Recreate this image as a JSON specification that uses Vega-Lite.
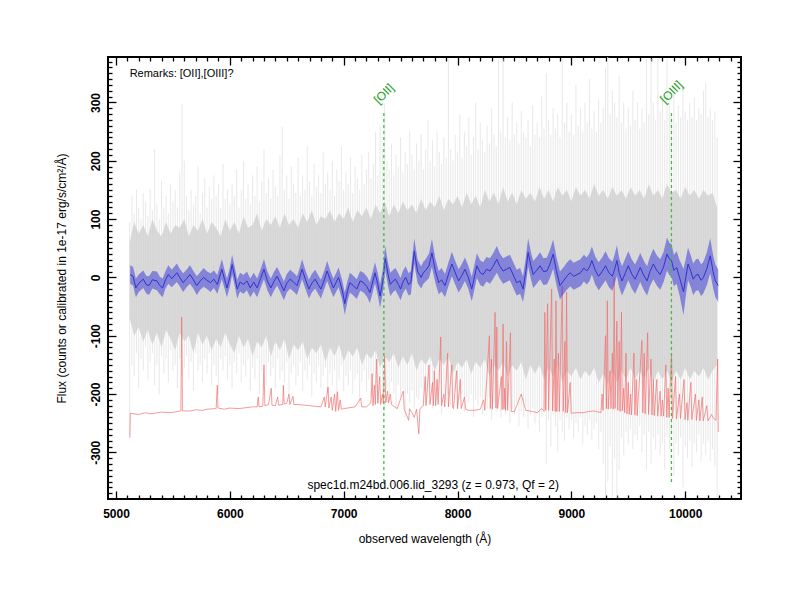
{
  "$schema": "https://vega.github.io/schema/vega-lite/v6.json",
  "width": 633,
  "height": 442,
  "autosize": "none",
  "padding": {"left": 108, "top": 57, "right": 59, "bottom": 101},
  "background": "white",
  "config": {
    "font": "Liberation Sans",
    "view": {"stroke": "black", "strokeWidth": 2}
  },
  "datasets": {
    "grey": [
      {"w":5120,"a":-270,"b":95},{"w":5140,"a":-150,"b":140},{"w":5160,"a":-170,"b":110},{"w":5180,"a":-130,"b":150},{"w":5200,"a":-190,"b":120},
      {"w":5220,"a":-140,"b":100},{"w":5240,"a":-160,"b":145},{"w":5260,"a":-120,"b":130},{"w":5280,"a":-175,"b":105},{"w":5300,"a":-145,"b":150},
      {"w":5320,"a":-130,"b":115},{"w":5340,"a":-185,"b":220},{"w":5360,"a":-150,"b":125},{"w":5380,"a":-200,"b":100},{"w":5400,"a":-135,"b":165},
      {"w":5420,"a":-165,"b":120},{"w":5440,"a":-140,"b":140},{"w":5460,"a":-180,"b":110},{"w":5480,"a":-125,"b":160},{"w":5500,"a":-160,"b":130},
      {"w":5520,"a":-150,"b":150},{"w":5540,"a":-190,"b":120},{"w":5560,"a":-140,"b":180},{"w":5580,"a":-170,"b":298},{"w":5600,"a":-155,"b":200},
      {"w":5620,"a":-135,"b":140},{"w":5640,"a":-175,"b":115},{"w":5660,"a":-145,"b":150},{"w":5680,"a":-195,"b":125},{"w":5700,"a":-130,"b":140},
      {"w":5720,"a":-160,"b":190},{"w":5740,"a":-150,"b":110},{"w":5760,"a":-180,"b":145},{"w":5780,"a":-140,"b":170},{"w":5800,"a":-165,"b":120},
      {"w":5820,"a":-130,"b":155},{"w":5840,"a":-185,"b":135},{"w":5860,"a":-150,"b":175},{"w":5880,"a":-170,"b":140},{"w":5900,"a":-200,"b":160},
      {"w":5920,"a":-140,"b":120},{"w":5940,"a":-160,"b":195},{"w":5960,"a":-135,"b":135},{"w":5980,"a":-175,"b":150},{"w":6000,"a":-150,"b":125},
      {"w":6020,"a":-190,"b":160},{"w":6040,"a":-145,"b":140},{"w":6060,"a":-165,"b":185},{"w":6080,"a":-130,"b":120},{"w":6100,"a":-180,"b":150},
      {"w":6120,"a":-150,"b":200},{"w":6140,"a":-170,"b":135},{"w":6160,"a":-140,"b":160},{"w":6180,"a":-195,"b":125},{"w":6200,"a":-155,"b":175},
      {"w":6220,"a":-175,"b":140},{"w":6240,"a":-140,"b":190},{"w":6260,"a":-200,"b":130},{"w":6280,"a":-160,"b":165},{"w":6300,"a":-150,"b":220},
      {"w":6320,"a":-185,"b":145},{"w":6340,"a":-145,"b":170},{"w":6360,"a":-170,"b":135},{"w":6380,"a":-155,"b":185},{"w":6400,"a":-190,"b":155},
      {"w":6420,"a":-140,"b":140},{"w":6440,"a":-175,"b":210},{"w":6460,"a":-160,"b":258},{"w":6480,"a":-180,"b":150},{"w":6500,"a":-145,"b":175},
      {"w":6520,"a":-200,"b":135},{"w":6540,"a":-165,"b":190},{"w":6560,"a":-150,"b":160},{"w":6580,"a":-185,"b":145},{"w":6600,"a":-170,"b":205},
      {"w":6620,"a":-145,"b":140},{"w":6640,"a":-195,"b":175},{"w":6660,"a":-160,"b":150},{"w":6680,"a":-175,"b":225},{"w":6700,"a":-150,"b":165},
      {"w":6720,"a":-205,"b":140},{"w":6740,"a":-165,"b":195},{"w":6760,"a":-180,"b":155},{"w":6780,"a":-150,"b":175},{"w":6800,"a":-190,"b":145},
      {"w":6820,"a":-170,"b":215},{"w":6840,"a":-155,"b":160},{"w":6860,"a":-200,"b":180},{"w":6880,"a":-165,"b":150},{"w":6900,"a":-185,"b":200},
      {"w":6920,"a":-160,"b":140},{"w":6940,"a":-210,"b":185},{"w":6960,"a":-175,"b":165},{"w":6980,"a":-150,"b":225},{"w":7000,"a":-195,"b":150},
      {"w":7020,"a":-170,"b":180},{"w":7040,"a":-185,"b":160},{"w":7060,"a":-160,"b":205},{"w":7080,"a":-200,"b":145},{"w":7100,"a":-175,"b":190},
      {"w":7120,"a":-165,"b":170},{"w":7140,"a":-215,"b":150},{"w":7160,"a":-180,"b":210},{"w":7180,"a":-160,"b":160},{"w":7200,"a":-195,"b":185},
      {"w":7220,"a":-175,"b":215},{"w":7240,"a":-205,"b":170},{"w":7260,"a":-170,"b":195},{"w":7280,"a":-190,"b":250},{"w":7300,"a":-210,"b":175},
      {"w":7320,"a":-180,"b":260},{"w":7340,"a":-200,"b":220},{"w":7360,"a":-230,"b":298},{"w":7380,"a":-190,"b":200},{"w":7400,"a":-215,"b":185},
      {"w":7420,"a":-180,"b":230},{"w":7440,"a":-200,"b":175},{"w":7460,"a":-225,"b":210},{"w":7480,"a":-185,"b":190},{"w":7500,"a":-205,"b":240},
      {"w":7520,"a":-190,"b":180},{"w":7540,"a":-240,"b":215},{"w":7560,"a":-200,"b":195},{"w":7580,"a":-215,"b":250},{"w":7600,"a":-195,"b":210},
      {"w":7620,"a":-225,"b":185},{"w":7640,"a":-205,"b":230},{"w":7660,"a":-210,"b":200},{"w":7680,"a":-190,"b":245},{"w":7700,"a":-215,"b":185},
      {"w":7720,"a":-195,"b":220},{"w":7740,"a":-205,"b":270},{"w":7760,"a":-190,"b":200},{"w":7780,"a":-225,"b":235},{"w":7800,"a":-200,"b":190},
      {"w":7820,"a":-210,"b":250},{"w":7840,"a":-195,"b":215},{"w":7860,"a":-235,"b":195},{"w":7880,"a":-200,"b":240},{"w":7900,"a":-215,"b":205},
      {"w":7920,"a":-200,"b":375},{"w":7940,"a":-220,"b":220},{"w":7960,"a":-205,"b":200},{"w":7980,"a":-195,"b":245},{"w":8000,"a":-225,"b":215},
      {"w":8020,"a":-210,"b":280},{"w":8040,"a":-200,"b":205},{"w":8060,"a":-230,"b":250},{"w":8080,"a":-205,"b":225},{"w":8100,"a":-215,"b":275},
      {"w":8120,"a":-200,"b":210},{"w":8140,"a":-240,"b":240},{"w":8160,"a":-210,"b":300},{"w":8180,"a":-220,"b":220},{"w":8200,"a":-205,"b":265},
      {"w":8220,"a":-235,"b":235},{"w":8240,"a":-210,"b":215},{"w":8260,"a":-225,"b":260},{"w":8280,"a":-205,"b":230},{"w":8300,"a":-245,"b":290},
      {"w":8320,"a":-215,"b":245},{"w":8340,"a":-230,"b":225},{"w":8360,"a":-210,"b":375},{"w":8380,"a":-240,"b":250},{"w":8400,"a":-220,"b":375},
      {"w":8420,"a":-235,"b":240},{"w":8440,"a":-215,"b":275},{"w":8460,"a":-250,"b":235},{"w":8480,"a":-225,"b":300},{"w":8500,"a":-235,"b":245},
      {"w":8520,"a":-215,"b":265},{"w":8540,"a":-255,"b":230},{"w":8560,"a":-230,"b":285},{"w":8580,"a":-240,"b":250},{"w":8600,"a":-220,"b":240},
      {"w":8620,"a":-260,"b":270},{"w":8640,"a":-235,"b":225},{"w":8660,"a":-225,"b":295},{"w":8680,"a":-250,"b":245},{"w":8700,"a":-230,"b":265},
      {"w":8720,"a":-265,"b":240},{"w":8740,"a":-240,"b":310},{"w":8760,"a":-225,"b":255},{"w":8780,"a":-320,"b":350},{"w":8800,"a":-245,"b":270},
      {"w":8820,"a":-290,"b":245},{"w":8840,"a":-235,"b":290},{"w":8860,"a":-255,"b":255},{"w":8880,"a":-300,"b":280},{"w":8900,"a":-245,"b":240},
      {"w":8920,"a":-265,"b":375},{"w":8940,"a":-280,"b":265},{"w":8960,"a":-240,"b":300},{"w":8980,"a":-260,"b":250},{"w":9000,"a":-245,"b":280},
      {"w":9020,"a":-275,"b":245},{"w":9040,"a":-250,"b":330},{"w":9060,"a":-265,"b":260},{"w":9080,"a":-240,"b":290},{"w":9100,"a":-285,"b":250},
      {"w":9120,"a":-255,"b":300},{"w":9140,"a":-270,"b":265},{"w":9160,"a":-245,"b":340},{"w":9180,"a":-280,"b":255},{"w":9200,"a":-260,"b":285},
      {"w":9220,"a":-250,"b":250},{"w":9240,"a":-295,"b":305},{"w":9260,"a":-265,"b":265},{"w":9280,"a":-320,"b":290},{"w":9300,"a":-378,"b":360},
      {"w":9320,"a":-350,"b":378},{"w":9340,"a":-290,"b":280},{"w":9360,"a":-378,"b":320},{"w":9380,"a":-310,"b":300},{"w":9400,"a":-378,"b":275},
      {"w":9420,"a":-330,"b":345},{"w":9440,"a":-275,"b":265},{"w":9460,"a":-305,"b":300},{"w":9480,"a":-265,"b":255},{"w":9500,"a":-285,"b":290},
      {"w":9520,"a":-260,"b":260},{"w":9540,"a":-295,"b":320},{"w":9560,"a":-270,"b":270},{"w":9580,"a":-280,"b":300},{"w":9600,"a":-255,"b":255},
      {"w":9620,"a":-300,"b":290},{"w":9640,"a":-270,"b":265},{"w":9660,"a":-330,"b":375},{"w":9680,"a":-265,"b":280},{"w":9700,"a":-320,"b":375},
      {"w":9720,"a":-275,"b":300},{"w":9740,"a":-295,"b":270},{"w":9760,"a":-270,"b":375},{"w":9780,"a":-305,"b":285},{"w":9800,"a":-285,"b":310},
      {"w":9820,"a":-330,"b":270},{"w":9840,"a":-275,"b":375},{"w":9860,"a":-295,"b":300},{"w":9880,"a":-265,"b":280},{"w":9900,"a":-340,"b":320},
      {"w":9920,"a":-285,"b":265},{"w":9940,"a":-305,"b":295},{"w":9960,"a":-275,"b":275},{"w":9980,"a":-360,"b":330},{"w":10000,"a":-290,"b":285},
      {"w":10020,"a":-310,"b":270},{"w":10040,"a":-280,"b":300},{"w":10060,"a":-325,"b":275},{"w":10080,"a":-285,"b":310},{"w":10100,"a":-300,"b":270},
      {"w":10120,"a":-270,"b":290},{"w":10140,"a":-315,"b":280},{"w":10160,"a":-285,"b":320},{"w":10180,"a":-305,"b":335},{"w":10200,"a":-280,"b":275},
      {"w":10220,"a":-315,"b":290},{"w":10240,"a":-295,"b":270},{"w":10260,"a":-325,"b":285},{"w":10280,"a":-378,"b":240}
    ],
    "core": [
      {"w":5120,"c":-70,"d":60},{"w":5160,"c":-100,"d":95},{"w":5200,"c":-85,"d":75},{"w":5240,"c":-110,"d":90},{"w":5280,"c":-90,"d":70},
      {"w":5320,"c":-115,"d":100},{"w":5360,"c":-95,"d":80},{"w":5400,"c":-120,"d":70},{"w":5440,"c":-90,"d":95},{"w":5480,"c":-105,"d":75},
      {"w":5520,"c":-125,"d":90},{"w":5560,"c":-95,"d":85},{"w":5600,"c":-110,"d":100},{"w":5640,"c":-100,"d":70},{"w":5680,"c":-130,"d":90},
      {"w":5720,"c":-95,"d":80},{"w":5760,"c":-115,"d":100},{"w":5800,"c":-100,"d":75},{"w":5840,"c":-125,"d":95},{"w":5880,"c":-105,"d":85},
      {"w":5920,"c":-120,"d":70},{"w":5960,"c":-95,"d":100},{"w":6000,"c":-115,"d":80},{"w":6040,"c":-130,"d":95},{"w":6080,"c":-100,"d":75},
      {"w":6120,"c":-120,"d":105},{"w":6160,"c":-105,"d":85},{"w":6200,"c":-135,"d":90},{"w":6240,"c":-110,"d":110},{"w":6280,"c":-120,"d":80},
      {"w":6320,"c":-100,"d":100},{"w":6360,"c":-135,"d":90},{"w":6400,"c":-110,"d":105},{"w":6440,"c":-125,"d":85},{"w":6480,"c":-105,"d":110},
      {"w":6520,"c":-140,"d":90},{"w":6560,"c":-115,"d":100},{"w":6600,"c":-125,"d":85},{"w":6640,"c":-110,"d":110},{"w":6680,"c":-140,"d":95},
      {"w":6720,"c":-120,"d":115},{"w":6760,"c":-130,"d":90},{"w":6800,"c":-115,"d":105},{"w":6840,"c":-145,"d":100},{"w":6880,"c":-120,"d":115},
      {"w":6920,"c":-135,"d":95},{"w":6960,"c":-115,"d":110},{"w":7000,"c":-145,"d":100},{"w":7040,"c":-125,"d":120},{"w":7080,"c":-135,"d":95},
      {"w":7120,"c":-120,"d":115},{"w":7160,"c":-150,"d":105},{"w":7200,"c":-130,"d":120},{"w":7240,"c":-140,"d":100},{"w":7280,"c":-125,"d":125},
      {"w":7320,"c":-155,"d":110},{"w":7360,"c":-135,"d":130},{"w":7400,"c":-145,"d":105},{"w":7440,"c":-130,"d":125},{"w":7480,"c":-155,"d":110},
      {"w":7520,"c":-135,"d":130},{"w":7560,"c":-150,"d":115},{"w":7600,"c":-130,"d":125},{"w":7640,"c":-160,"d":110},{"w":7680,"c":-140,"d":135},
      {"w":7720,"c":-150,"d":115},{"w":7760,"c":-135,"d":130},{"w":7800,"c":-160,"d":120},{"w":7840,"c":-140,"d":140},{"w":7880,"c":-150,"d":115},
      {"w":7920,"c":-135,"d":135},{"w":7960,"c":-165,"d":125},{"w":8000,"c":-145,"d":140},{"w":8040,"c":-155,"d":120},{"w":8080,"c":-140,"d":145},
      {"w":8120,"c":-165,"d":125},{"w":8160,"c":-145,"d":140},{"w":8200,"c":-155,"d":120},{"w":8240,"c":-140,"d":150},{"w":8280,"c":-170,"d":130},
      {"w":8320,"c":-150,"d":145},{"w":8360,"c":-160,"d":125},{"w":8400,"c":-145,"d":155},{"w":8440,"c":-170,"d":130},{"w":8480,"c":-150,"d":145},
      {"w":8520,"c":-160,"d":125},{"w":8560,"c":-145,"d":150},{"w":8600,"c":-175,"d":135},{"w":8640,"c":-150,"d":145},{"w":8680,"c":-165,"d":130},
      {"w":8720,"c":-150,"d":155},{"w":8760,"c":-175,"d":135},{"w":8800,"c":-155,"d":150},{"w":8840,"c":-170,"d":130},{"w":8880,"c":-150,"d":155},
      {"w":8920,"c":-180,"d":140},{"w":8960,"c":-160,"d":150},{"w":9000,"c":-170,"d":130},{"w":9040,"c":-155,"d":155},{"w":9080,"c":-175,"d":140},
      {"w":9120,"c":-160,"d":150},{"w":9160,"c":-170,"d":135},{"w":9200,"c":-155,"d":160},{"w":9240,"c":-180,"d":140},{"w":9280,"c":-165,"d":150},
      {"w":9320,"c":-185,"d":135},{"w":9360,"c":-160,"d":155},{"w":9400,"c":-180,"d":140},{"w":9440,"c":-160,"d":150},{"w":9480,"c":-175,"d":135},
      {"w":9520,"c":-155,"d":155},{"w":9560,"c":-175,"d":140},{"w":9600,"c":-160,"d":150},{"w":9640,"c":-175,"d":135},{"w":9680,"c":-155,"d":160},
      {"w":9720,"c":-180,"d":140},{"w":9760,"c":-160,"d":150},{"w":9800,"c":-175,"d":135},{"w":9840,"c":-160,"d":160},{"w":9880,"c":-180,"d":145},
      {"w":9920,"c":-160,"d":150},{"w":9960,"c":-175,"d":135},{"w":10000,"c":-155,"d":155},{"w":10040,"c":-175,"d":140},{"w":10080,"c":-160,"d":150},
      {"w":10120,"c":-170,"d":135},{"w":10160,"c":-155,"d":150},{"w":10200,"c":-175,"d":140},{"w":10240,"c":-160,"d":145},{"w":10280,"c":-150,"d":120}
    ],
    "sky": [
      {"w":5122,"s":-275},{"w":5126,"s":-233},{"w":5200,"s":-235},{"w":5260,"s":-232},{"w":5300,"s":-234},{"w":5400,"s":-231},{"w":5480,"s":-232},
      {"w":5570,"s":-229},{"w":5577,"s":-68},{"w":5584,"s":-229},{"w":5650,"s":-229},{"w":5700,"s":-227},{"w":5760,"s":-228},{"w":5800,"s":-226},
      {"w":5880,"s":-225},{"w":5890,"s":-185},{"w":5896,"s":-224},{"w":5950,"s":-226},{"w":6000,"s":-224},{"w":6080,"s":-225},{"w":6200,"s":-222},
      {"w":6240,"s":-222},{"w":6250,"s":-205},{"w":6257,"s":-222},{"w":6290,"s":-221},{"w":6300,"s":-150},{"w":6308,"s":-220},{"w":6340,"s":-218},
      {"w":6364,"s":-190},{"w":6370,"s":-219},{"w":6400,"s":-220},{"w":6420,"s":-205},{"w":6428,"s":-219},{"w":6465,"s":-218},{"w":6470,"s":-185},
      {"w":6478,"s":-217},{"w":6500,"s":-216},{"w":6520,"s":-200},{"w":6527,"s":-218},{"w":6555,"s":-204},{"w":6562,"s":-218},{"w":6600,"s":-218},
      {"w":6700,"s":-220},{"w":6800,"s":-222},{"w":6830,"s":-205},{"w":6838,"s":-222},{"w":6863,"s":-188},{"w":6870,"s":-224},{"w":6890,"s":-205},
      {"w":6900,"s":-228},{"w":6920,"s":-200},{"w":6930,"s":-230},{"w":6945,"s":-196},{"w":6955,"s":-228},{"w":6970,"s":-210},{"w":6980,"s":-226},
      {"w":7000,"s":-225},{"w":7100,"s":-222},{"w":7150,"s":-207},{"w":7158,"s":-222},{"w":7200,"s":-222},{"w":7240,"s":-215},{"w":7250,"s":-165},
      {"w":7258,"s":-220},{"w":7270,"s":-185},{"w":7278,"s":-218},{"w":7290,"s":-140},{"w":7300,"s":-216},{"w":7316,"s":-170},{"w":7325,"s":-218},
      {"w":7340,"s":-200},{"w":7348,"s":-216},{"w":7360,"s":-135},{"w":7370,"s":-215},{"w":7385,"s":-195},{"w":7393,"s":-215},{"w":7410,"s":-200},
      {"w":7420,"s":-218},{"w":7470,"s":-225},{"w":7524,"s":-195},{"w":7532,"s":-226},{"w":7571,"s":-245},{"w":7578,"s":-225},{"w":7600,"s":-232},
      {"w":7620,"s":-240},{"w":7640,"s":-226},{"w":7660,"s":-268},{"w":7670,"s":-225},{"w":7700,"s":-220},{"w":7716,"s":-170},{"w":7723,"s":-220},
      {"w":7750,"s":-150},{"w":7758,"s":-218},{"w":7780,"s":-180},{"w":7788,"s":-220},{"w":7796,"s":-160},{"w":7808,"s":-220},{"w":7821,"s":-175},
      {"w":7830,"s":-218},{"w":7853,"s":-102},{"w":7860,"s":-220},{"w":7880,"s":-200},{"w":7888,"s":-222},{"w":7913,"s":-130},{"w":7920,"s":-222},
      {"w":7950,"s":-150},{"w":7958,"s":-223},{"w":7965,"s":-225},{"w":7993,"s":-160},{"w":8000,"s":-225},{"w":8025,"s":-175},{"w":8032,"s":-225},
      {"w":8062,"s":-205},{"w":8070,"s":-226},{"w":8100,"s":-228},{"w":8150,"s":-228},{"w":8200,"s":-226},{"w":8230,"s":-210},{"w":8240,"s":-228},
      {"w":8280,"s":-100},{"w":8288,"s":-225},{"w":8298,"s":-140},{"w":8306,"s":-226},{"w":8330,"s":-60},{"w":8338,"s":-224},{"w":8345,"s":-85},
      {"w":8352,"s":-225},{"w":8385,"s":-170},{"w":8392,"s":-227},{"w":8400,"s":-80},{"w":8408,"s":-226},{"w":8415,"s":-190},{"w":8422,"s":-228},
      {"w":8430,"s":-110},{"w":8440,"s":-228},{"w":8465,"s":-95},{"w":8472,"s":-230},{"w":8500,"s":-230},{"w":8530,"s":-215},{"w":8560,"s":-200},
      {"w":8580,"s":-215},{"w":8600,"s":-228},{"w":8660,"s":-230},{"w":8700,"s":-232},{"w":8740,"s":-225},{"w":8760,"s":-230},{"w":8767,"s":-60},
      {"w":8775,"s":-228},{"w":8791,"s":-45},{"w":8800,"s":-228},{"w":8827,"s":-20},{"w":8835,"s":-229},{"w":8850,"s":-140},{"w":8858,"s":-230},
      {"w":8865,"s":-40},{"w":8872,"s":-230},{"w":8886,"s":-130},{"w":8894,"s":-230},{"w":8920,"s":-15},{"w":8928,"s":-230},{"w":8943,"s":-110},
      {"w":8950,"s":-232},{"w":8958,"s":-25},{"w":8966,"s":-232},{"w":8990,"s":-180},{"w":8998,"s":-233},{"w":9040,"s":-232},{"w":9100,"s":-232},
      {"w":9150,"s":-230},{"w":9200,"s":-229},{"w":9260,"s":-232},{"w":9270,"s":-200},{"w":9278,"s":-228},{"w":9300,"s":-100},{"w":9308,"s":-225},
      {"w":9316,"s":-40},{"w":9324,"s":-226},{"w":9340,"s":-160},{"w":9348,"s":-225},{"w":9360,"s":-130},{"w":9368,"s":-226},{"w":9376,"s":0},
      {"w":9384,"s":-225},{"w":9400,"s":-75},{"w":9408,"s":-228},{"w":9420,"s":-110},{"w":9428,"s":-230},{"w":9440,"s":-60},{"w":9448,"s":-229},
      {"w":9460,"s":-190},{"w":9468,"s":-232},{"w":9480,"s":-130},{"w":9488,"s":-234},{"w":9500,"s":-180},{"w":9508,"s":-235},{"w":9520,"s":-200},
      {"w":9528,"s":-236},{"w":9550,"s":-130},{"w":9558,"s":-236},{"w":9570,"s":-175},{"w":9578,"s":-237},{"w":9620,"s":-108},{"w":9628,"s":-232},
      {"w":9640,"s":-130},{"w":9648,"s":-234},{"w":9670,"s":-95},{"w":9678,"s":-235},{"w":9700,"s":-140},{"w":9708,"s":-236},{"w":9720,"s":-175},
      {"w":9728,"s":-237},{"w":9750,"s":-175},{"w":9758,"s":-238},{"w":9780,"s":-195},{"w":9788,"s":-238},{"w":9800,"s":-210},{"w":9810,"s":-238},
      {"w":9830,"s":-150},{"w":9838,"s":-240},{"w":9850,"s":-190},{"w":9858,"s":-240},{"w":9880,"s":-130},{"w":9888,"s":-242},{"w":9915,"s":-170},
      {"w":9923,"s":-243},{"w":9950,"s":-200},{"w":9958,"s":-242},{"w":9990,"s":-175},{"w":9998,"s":-244},{"w":10015,"s":-215},{"w":10023,"s":-245},
      {"w":10050,"s":-180},{"w":10058,"s":-244},{"w":10090,"s":-200},{"w":10098,"s":-245},{"w":10120,"s":-210},{"w":10128,"s":-246},{"w":10150,"s":-205},
      {"w":10158,"s":-246},{"w":10190,"s":-220},{"w":10200,"s":-246},{"w":10230,"s":-235},{"w":10250,"s":-242},{"w":10270,"s":-245},{"w":10285,"s":-140},
      {"w":10290,"s":-265}
    ],
    "smooth": [
      {"w":5125,"f":5,"e":16},{"w":5150,"f":2,"e":16},{"w":5175,"f":-18,"e":16},{"w":5200,"f":-10,"e":15},{"w":5240,"f":-3,"e":15},
      {"w":5265,"f":-12,"e":15},{"w":5290,"f":-14,"e":16},{"w":5320,"f":-4,"e":15},{"w":5360,"f":-6,"e":16},{"w":5385,"f":-14,"e":15},
      {"w":5410,"f":-18,"e":16},{"w":5435,"f":-4,"e":15},{"w":5460,"f":5,"e":16},{"w":5490,"f":-2,"e":15},{"w":5535,"f":8,"e":16},
      {"w":5560,"f":0,"e":15},{"w":5590,"f":-9,"e":16},{"w":5620,"f":-2,"e":15},{"w":5650,"f":5,"e":16},{"w":5680,"f":-4,"e":15},
      {"w":5710,"f":-14,"e":16},{"w":5740,"f":-6,"e":15},{"w":5770,"f":0,"e":16},{"w":5800,"f":-5,"e":15},{"w":5830,"f":-9,"e":16},
      {"w":5860,"f":-3,"e":15},{"w":5890,"f":-12,"e":16},{"w":5930,"f":14,"e":17},{"w":5955,"f":-4,"e":16},{"w":5975,"f":-18,"e":16},
      {"w":6000,"f":0,"e":16},{"w":6020,"f":22,"e":17},{"w":6045,"f":0,"e":16},{"w":6065,"f":-20,"e":16},{"w":6090,"f":-8,"e":16},
      {"w":6120,"f":-12,"e":16},{"w":6150,"f":-6,"e":16},{"w":6180,"f":-18,"e":16},{"w":6210,"f":-8,"e":16},{"w":6240,"f":-18,"e":16},
      {"w":6270,"f":-2,"e":16},{"w":6300,"f":14,"e":17},{"w":6330,"f":-6,"e":16},{"w":6360,"f":-18,"e":16},{"w":6390,"f":-6,"e":16},
      {"w":6415,"f":2,"e":16},{"w":6445,"f":-10,"e":16},{"w":6475,"f":-23,"e":16},{"w":6500,"f":-10,"e":16},{"w":6530,"f":-3,"e":16},
      {"w":6560,"f":-8,"e":16},{"w":6590,"f":-14,"e":16},{"w":6610,"f":-2,"e":16},{"w":6635,"f":14,"e":17},{"w":6665,"f":-4,"e":16},
      {"w":6695,"f":-20,"e":16},{"w":6720,"f":-10,"e":16},{"w":6750,"f":-3,"e":16},{"w":6775,"f":-12,"e":16},{"w":6800,"f":-20,"e":16},
      {"w":6830,"f":-4,"e":16},{"w":6855,"f":11,"e":17},{"w":6885,"f":-6,"e":16},{"w":6910,"f":-18,"e":16},{"w":6935,"f":-8,"e":16},
      {"w":6955,"f":0,"e":17},{"w":6985,"f":-20,"e":17},{"w":7010,"f":-45,"e":19},{"w":7035,"f":-22,"e":17},{"w":7055,"f":-9,"e":17},
      {"w":7085,"f":-14,"e":17},{"w":7115,"f":-20,"e":17},{"w":7145,"f":-6,"e":17},{"w":7175,"f":-9,"e":17},{"w":7205,"f":-16,"e":17},
      {"w":7230,"f":-26,"e":18},{"w":7255,"f":-8,"e":18},{"w":7275,"f":8,"e":18},{"w":7300,"f":-12,"e":19},{"w":7320,"f":-32,"e":20},
      {"w":7345,"f":-5,"e":20},{"w":7365,"f":33,"e":21},{"w":7390,"f":5,"e":20},{"w":7410,"f":-12,"e":20},{"w":7435,"f":-6,"e":19},
      {"w":7455,"f":-3,"e":19},{"w":7480,"f":-12,"e":19},{"w":7500,"f":-20,"e":19},{"w":7520,"f":-8,"e":19},{"w":7545,"f":0,"e":19},
      {"w":7570,"f":-12,"e":19},{"w":7590,"f":-9,"e":20},{"w":7620,"f":45,"e":22},{"w":7650,"f":10,"e":20},{"w":7680,"f":0,"e":19},
      {"w":7700,"f":8,"e":19},{"w":7720,"f":12,"e":19},{"w":7750,"f":20,"e":21},{"w":7775,"f":42,"e":24},{"w":7805,"f":12,"e":21},
      {"w":7835,"f":-9,"e":20},{"w":7860,"f":-4,"e":20},{"w":7890,"f":-14,"e":20},{"w":7920,"f":5,"e":20},{"w":7950,"f":23,"e":21},
      {"w":7980,"f":8,"e":20},{"w":8010,"f":-6,"e":20},{"w":8040,"f":4,"e":20},{"w":8065,"f":14,"e":20},{"w":8095,"f":0,"e":20},
      {"w":8125,"f":-20,"e":21},{"w":8150,"f":2,"e":21},{"w":8170,"f":20,"e":21},{"w":8200,"f":8,"e":21},{"w":8225,"f":5,"e":21},
      {"w":8255,"f":14,"e":21},{"w":8285,"f":11,"e":22},{"w":8315,"f":20,"e":22},{"w":8345,"f":31,"e":23},{"w":8370,"f":20,"e":22},
      {"w":8400,"f":11,"e":22},{"w":8430,"f":14,"e":22},{"w":8460,"f":17,"e":22},{"w":8490,"f":4,"e":22},{"w":8520,"f":-9,"e":22},
      {"w":8550,"f":-6,"e":22},{"w":8575,"f":-20,"e":22},{"w":8600,"f":10,"e":24},{"w":8620,"f":43,"e":24},{"w":8645,"f":20,"e":23},
      {"w":8665,"f":5,"e":23},{"w":8695,"f":12,"e":23},{"w":8725,"f":20,"e":23},{"w":8755,"f":10,"e":23},{"w":8785,"f":11,"e":23},
      {"w":8810,"f":22,"e":24},{"w":8840,"f":40,"e":25},{"w":8870,"f":10,"e":24},{"w":8900,"f":-14,"e":24},{"w":8930,"f":-6,"e":23},
      {"w":8960,"f":2,"e":23},{"w":8990,"f":8,"e":23},{"w":9020,"f":2,"e":23},{"w":9050,"f":5,"e":23},{"w":9080,"f":8,"e":23},
      {"w":9110,"f":16,"e":23},{"w":9135,"f":11,"e":23},{"w":9160,"f":18,"e":24},{"w":9180,"f":29,"e":24},{"w":9210,"f":12,"e":24},
      {"w":9240,"f":2,"e":24},{"w":9270,"f":10,"e":24},{"w":9300,"f":20,"e":25},{"w":9330,"f":8,"e":25},{"w":9360,"f":2,"e":25},
      {"w":9380,"f":14,"e":25},{"w":9400,"f":29,"e":26},{"w":9420,"f":8,"e":25},{"w":9445,"f":-6,"e":25},{"w":9475,"f":8,"e":25},
      {"w":9500,"f":20,"e":25},{"w":9530,"f":6,"e":25},{"w":9560,"f":-3,"e":25},{"w":9585,"f":8,"e":25},{"w":9605,"f":17,"e":25},
      {"w":9635,"f":4,"e":25},{"w":9665,"f":-6,"e":25},{"w":9690,"f":10,"e":25},{"w":9720,"f":23,"e":26},{"w":9750,"f":12,"e":26},
      {"w":9780,"f":5,"e":26},{"w":9810,"f":18,"e":26},{"w":9840,"f":40,"e":28},{"w":9860,"f":32,"e":28},{"w":9880,"f":29,"e":28},
      {"w":9900,"f":12,"e":27},{"w":9925,"f":17,"e":28},{"w":9950,"f":0,"e":30},{"w":9985,"f":-25,"e":40},{"w":10005,"f":0,"e":32},
      {"w":10025,"f":23,"e":28},{"w":10050,"f":10,"e":27},{"w":10070,"f":-3,"e":27},{"w":10095,"f":4,"e":27},{"w":10115,"f":5,"e":27},
      {"w":10140,"f":-5,"e":27},{"w":10160,"f":0,"e":27},{"w":10190,"f":15,"e":28},{"w":10220,"f":37,"e":30},{"w":10245,"f":10,"e":28},
      {"w":10265,"f":-6,"e":28},{"w":10290,"f":-14,"e":28}
    ],
    "lines": [
      {"w":7353,"top":282,"bot":-352,"ty":315,"lab":"[OII]"},
      {"w":9879,"top":282,"bot":-352,"ty":318,"lab":"[OIII]"}
    ]
  },
  "layer": [
    {
      "data": {"name": "grey"},
      "mark": {"type": "rule", "color": "#e5e5e5", "strokeWidth": 0.9, "clip": true},
      "encoding": {
        "x": {
          "field": "w", "type": "quantitative",
          "scale": {"domain": [4930, 10490], "nice": false, "zero": false},
          "axis": {
            "orient": "bottom",
            "values": [5000,5100,5200,5300,5400,5500,5600,5700,5800,5900,6000,6100,6200,6300,6400,6500,6600,6700,6800,6900,7000,7100,7200,7300,7400,7500,7600,7700,7800,7900,8000,8100,8200,8300,8400,8500,8600,8700,8800,8900,9000,9100,9200,9300,9400,9500,9600,9700,9800,9900,10000,10100,10200,10300,10400],
            "labelExpr": "datum.value % 1000 === 0 ? '' + datum.value : ''",
            "tickSize": {"condition": {"test": "datum.value % 1000 === 0", "value": -8}, "value": -4},
            "tickColor": "black", "tickWidth": 1.3,
            "domain": false, "grid": false,
            "labelFontWeight": "bold", "labelFontSize": 12, "labelColor": "black",
            "labelPadding": 17,
            "title": "observed wavelength (Å)",
            "titleFontWeight": "normal", "titleFontSize": 12, "titleColor": "black",
            "titlePadding": 14
          }
        },
        "y": {
          "field": "a", "type": "quantitative",
          "scale": {"domain": [-380, 378], "nice": false, "zero": false},
          "axis": {
            "orient": "left",
            "values": [-370,-360,-350,-340,-330,-320,-310,-300,-290,-280,-270,-260,-250,-240,-230,-220,-210,-200,-190,-180,-170,-160,-150,-140,-130,-120,-110,-100,-90,-80,-70,-60,-50,-40,-30,-20,-10,0,10,20,30,40,50,60,70,80,90,100,110,120,130,140,150,160,170,180,190,200,210,220,230,240,250,260,270,280,290,300,310,320,330,340,350,360,370],
            "labelExpr": "datum.value % 100 === 0 ? '' + datum.value : ''",
            "tickSize": {"condition": {"test": "datum.value % 100 === 0", "value": -8}, "value": -4},
            "tickColor": "black", "tickWidth": 1.3,
            "domain": false, "grid": false,
            "labelAngle": -90,
            "labelFontWeight": "bold", "labelFontSize": 12, "labelColor": "black",
            "labelPadding": 14,
            "title": "Flux (counts or calibrated in 1e-17 erg/s/cm²/Å)",
            "titleFontWeight": "normal", "titleFontSize": 12, "titleColor": "black",
            "titlePadding": 21
          }
        },
        "y2": {"field": "b"}
      }
    },
    {
      "data": {"name": "core"},
      "mark": {"type": "area", "color": "#cdcdcd", "opacity": 0.75, "clip": true},
      "encoding": {
        "x": {"field": "w", "type": "quantitative", "scale": {"domain": [4930, 10490], "nice": false, "zero": false}, "axis": null},
        "y": {"field": "c", "type": "quantitative", "scale": {"domain": [-380, 378], "nice": false, "zero": false}, "axis": null},
        "y2": {"field": "d"}
      }
    },
    {
      "data": {"name": "sky"},
      "mark": {"type": "line", "color": "#f07070", "strokeWidth": 0.7, "clip": true},
      "encoding": {
        "x": {"field": "w", "type": "quantitative", "scale": {"domain": [4930, 10490], "nice": false, "zero": false}, "axis": null},
        "y": {"field": "s", "type": "quantitative", "scale": {"domain": [-380, 378], "nice": false, "zero": false}, "axis": null}
      }
    },
    {
      "data": {"name": "smooth"},
      "mark": {"type": "errorband", "color": "#3030d8", "opacity": 0.5},
      "encoding": {
        "x": {"field": "w", "type": "quantitative", "scale": {"domain": [4930, 10490], "nice": false, "zero": false}, "axis": null},
        "y": {"field": "f", "type": "quantitative", "scale": {"domain": [-380, 378], "nice": false, "zero": false}, "axis": null},
        "yError": {"field": "e"}
      }
    },
    {
      "data": {"name": "smooth"},
      "mark": {"type": "line", "color": "#3232d0", "strokeWidth": 1},
      "encoding": {
        "x": {"field": "w", "type": "quantitative", "scale": {"domain": [4930, 10490], "nice": false, "zero": false}, "axis": null},
        "y": {"field": "f", "type": "quantitative", "scale": {"domain": [-380, 378], "nice": false, "zero": false}, "axis": null}
      }
    },
    {
      "data": {"name": "lines"},
      "mark": {"type": "rule", "color": "#44bb44", "strokeWidth": 1.3, "strokeDash": [3, 3]},
      "encoding": {
        "x": {
          "field": "w", "type": "quantitative",
          "scale": {"domain": [4930, 10490], "nice": false, "zero": false},
          "axis": {
            "orient": "top",
            "values": [5000,5100,5200,5300,5400,5500,5600,5700,5800,5900,6000,6100,6200,6300,6400,6500,6600,6700,6800,6900,7000,7100,7200,7300,7400,7500,7600,7700,7800,7900,8000,8100,8200,8300,8400,8500,8600,8700,8800,8900,9000,9100,9200,9300,9400,9500,9600,9700,9800,9900,10000,10100,10200,10300,10400],
            "labels": false, "title": null, "domain": false, "grid": false,
            "tickSize": {"condition": {"test": "datum.value % 1000 === 0", "value": -8}, "value": -4},
            "tickColor": "black", "tickWidth": 1.3
          }
        },
        "y": {
          "field": "top", "type": "quantitative",
          "scale": {"domain": [-380, 378], "nice": false, "zero": false},
          "axis": {
            "orient": "right",
            "values": [-370,-360,-350,-340,-330,-320,-310,-300,-290,-280,-270,-260,-250,-240,-230,-220,-210,-200,-190,-180,-170,-160,-150,-140,-130,-120,-110,-100,-90,-80,-70,-60,-50,-40,-30,-20,-10,0,10,20,30,40,50,60,70,80,90,100,110,120,130,140,150,160,170,180,190,200,210,220,230,240,250,260,270,280,290,300,310,320,330,340,350,360,370],
            "labels": false, "title": null, "domain": false, "grid": false,
            "tickSize": {"condition": {"test": "datum.value % 100 === 0", "value": -8}, "value": -4},
            "tickColor": "black", "tickWidth": 1.3
          }
        },
        "y2": {"field": "bot"}
      }
    },
    {
      "data": {"name": "lines"},
      "mark": {"type": "text", "color": "#22a022", "fontSize": 12, "angle": 315, "align": "center", "baseline": "middle"},
      "encoding": {
        "x": {"field": "w", "type": "quantitative", "scale": {"domain": [4930, 10490], "nice": false, "zero": false}, "axis": null},
        "y": {"field": "ty", "type": "quantitative", "scale": {"domain": [-380, 378], "nice": false, "zero": false}, "axis": null},
        "text": {"field": "lab"}
      }
    },
    {
      "data": {"values": [{"w": 5120, "f": 349, "t": "Remarks: [OII],[OIII]?"}]},
      "mark": {"type": "text", "color": "black", "fontSize": 11, "align": "left", "baseline": "middle"},
      "encoding": {
        "x": {"field": "w", "type": "quantitative", "scale": {"domain": [4930, 10490], "nice": false, "zero": false}, "axis": null},
        "y": {"field": "f", "type": "quantitative", "scale": {"domain": [-380, 378], "nice": false, "zero": false}, "axis": null},
        "text": {"field": "t"}
      }
    },
    {
      "data": {"values": [{"w": 7786, "f": -356, "t": "spec1d.m24bd.006.lid_3293 (z = 0.973, Qf = 2)"}]},
      "mark": {"type": "text", "color": "black", "fontSize": 12, "align": "center", "baseline": "middle"},
      "encoding": {
        "x": {"field": "w", "type": "quantitative", "scale": {"domain": [4930, 10490], "nice": false, "zero": false}, "axis": null},
        "y": {"field": "f", "type": "quantitative", "scale": {"domain": [-380, 378], "nice": false, "zero": false}, "axis": null},
        "text": {"field": "t"}
      }
    }
  ],
  "resolve": {"axis": {"x": "independent", "y": "independent"}}
}
